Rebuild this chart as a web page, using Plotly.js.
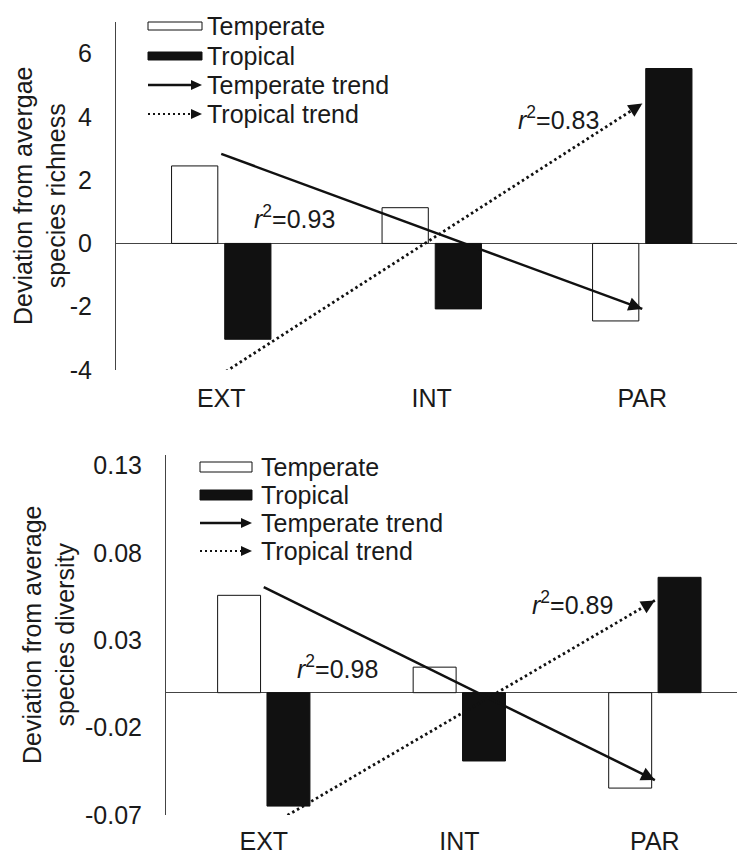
<!DOCTYPE html>
<html><head><meta charset="utf-8">
<script src="https://cdn.plot.ly/plotly-3.0.1.min.js"></script>
<style>html,body{margin:0;padding:0;background:#fff}#chart{width:737px;height:857px}</style>
</head><body><div id="chart"></div>
<script>
// ---- data ----
const categories = ['EXT', 'INT', 'PAR'];
const trendCategories = ['EXT', 'PAR'];
const richnessTemperate = [2.45, 1.13, -2.45];
const richnessTropical = [-3.03, -2.07, 5.53];
const richnessTemperateTrend = [2.83, -2.07];
const richnessTropicalTrend = [-4.14, 4.42];
const diversityTemperate = [0.0557, 0.0146, -0.0546];
const diversityTropical = [-0.0649, -0.0391, 0.066];
const diversityTemperateTrend = [0.0604, -0.0500];
const diversityTropicalTrend = [-0.0781, 0.0528];
const richnessTicks = [-4, -2, 0, 2, 4, 6];
const richnessTickText = ['-4', '-2', '0', '2', '4', '6'];
const diversityTicks = [-0.07, -0.02, 0.03, 0.08, 0.13];
const diversityTickText = ['-0.07', '-0.02', '0.03', '0.08', '0.13'];
const richnessR2 = ['0.93', '0.83'];
const diversityR2 = ['0.98', '0.89'];
const legendLabels = ['Temperate', 'Tropical', 'Temperate trend', 'Tropical trend'];
const richnessTitle = 'Deviation from avergae<br>species richness';
const diversityTitle = 'Deviation from average<br>species diversity';

// ---- layout helpers ----
const W = 737, H = 857, M = {l: 116, r: 0, t: 22, b: 42};
const PW = W - M.l - M.r, PH = H - M.t - M.b;
const fx = p => (p - M.l) / PW;
const fy = p => (H - M.b - p) / PH;
const FONT = 'Liberation Sans, Arial, sans-serif';
const INK = '#111';
const TXT = '#1a1a1a';
const FS = 25;
const DOT = '2.5px,3px';

const shapes = [];
const annotations = [];

function addLegend(x0, x1, textX, rows, boxH) {
  shapes.push({type: 'rect', xref: 'paper', yref: 'paper', x0: fx(x0), x1: fx(x1),
    y0: fy(rows[0] + boxH / 2), y1: fy(rows[0] - boxH / 2), fillcolor: 'white', line: {color: INK, width: 1}});
  shapes.push({type: 'rect', xref: 'paper', yref: 'paper', x0: fx(x0), x1: fx(x1),
    y0: fy(rows[1] + boxH / 2), y1: fy(rows[1] - boxH / 2), fillcolor: INK, line: {color: INK, width: 1}});
  [[rows[2], 'solid'], [rows[3], '2px,3px']].forEach(([yy, dash]) => {
    shapes.push({type: 'line', xref: 'paper', yref: 'paper', x0: fx(x0), x1: fx(x1 - 9),
      y0: fy(yy), y1: fy(yy), line: {color: INK, width: dash === 'solid' ? 2.5 : 2, dash: dash}});
    shapes.push({type: 'path', xref: 'paper', yref: 'paper',
      path: `M${fx(x1)},${fy(yy)} L${fx(x1 - 11)},${fy(yy - 5)} L${fx(x1 - 11)},${fy(yy + 5)} Z`,
      fillcolor: INK, line: {width: 0}});
  });
  legendLabels.forEach((t, i) => {
    annotations.push({xref: 'paper', yref: 'paper', x: fx(textX), y: fy(rows[i]), xanchor: 'left', yanchor: 'middle',
      text: t, showarrow: false, font: {family: FONT, size: FS, color: TXT}});
  });
}
addLegend(148, 202, 205, [26, 56, 85, 114], 8);
addLegend(200, 252, 259, [467, 495, 523, 551], 10);

// axis titles (rotated)
function yTitle(text, cx, cy) {
  annotations.push({xref: 'paper', yref: 'paper', x: fx(cx), y: fy(cy), xanchor: 'center', yanchor: 'middle',
    text: text, textangle: -90, showarrow: false, font: {family: FONT, size: FS, color: TXT}});
}
yTitle(richnessTitle, 40, 196);
yTitle(diversityTitle, 48, 635);

function r2(xref, yref, x, y, val) {
  annotations.push({xref: xref, yref: yref, x: x, y: y, text: '<i>r</i><sup>2</sup>=' + val, showarrow: false,
    font: {family: FONT, size: FS, color: TXT}});
}
r2('x', 'y', 0.35, 0.82, richnessR2[0]);
r2('x', 'y', 1.6, 3.96, richnessR2[1]);
r2('x2', 'y2', 0.376, 0.0146, diversityR2[0]);
r2('x2', 'y2', 1.58, 0.0511, diversityR2[1]);

// arrow heads at the end of each trend line (placed along the trend itself)
function arrowHead(trendY, xref, yref) {
  const last = categories.indexOf(trendCategories[1]);
  const first = categories.indexOf(trendCategories[0]);
  const t = 0.03;
  annotations.push({xref: xref, yref: yref, axref: xref, ayref: yref,
    x: last, y: trendY[1],
    ax: last - t * (last - first), ay: trendY[1] - t * (trendY[1] - trendY[0]),
    text: '', showarrow: true, arrowhead: 2, arrowsize: 1.1, arrowwidth: 2.5, arrowcolor: INK});
}
arrowHead(richnessTemperateTrend, 'x', 'y');
arrowHead(richnessTropicalTrend, 'x', 'y');
arrowHead(diversityTemperateTrend, 'x2', 'y2');
arrowHead(diversityTropicalTrend, 'x2', 'y2');

function bars(y, xa, ya, fill) {
  return {type: 'bar', x: categories, y: y, xaxis: xa, yaxis: ya, showlegend: false, hoverinfo: 'skip',
    marker: {color: fill, line: {color: INK, width: 1}}};
}
function trend(y, xa, ya, dash) {
  return {type: 'scatter', mode: 'lines', x: trendCategories, y: y, xaxis: xa, yaxis: ya,
    showlegend: false, hoverinfo: 'skip',
    line: {color: INK, width: dash === 'solid' ? 2.5 : 2.8, dash: dash}};
}

const data = [
  bars(richnessTemperate, 'x', 'y', 'white'),
  bars(richnessTropical, 'x', 'y', INK),
  trend(richnessTemperateTrend, 'x', 'y', 'solid'),
  trend(richnessTropicalTrend, 'x', 'y', DOT),
  bars(diversityTemperate, 'x2', 'y2', 'white'),
  bars(diversityTropical, 'x2', 'y2', INK),
  trend(diversityTemperateTrend, 'x2', 'y2', 'solid'),
  trend(diversityTropicalTrend, 'x2', 'y2', DOT)
];

const xCommon = {type: 'category', showline: false, ticks: '', showgrid: false, zeroline: false,
  tickfont: {family: FONT, size: FS, color: TXT}, fixedrange: true, automargin: false};
const yCommon = {showline: true, linecolor: '#444', linewidth: 1, zeroline: true, zerolinecolor: '#444',
  zerolinewidth: 1, showgrid: false, ticks: '', tickfont: {family: FONT, size: FS, color: TXT},
  ticklabelstandoff: 18, fixedrange: true, automargin: false};

const layout = {
  width: W, height: H, margin: M, paper_bgcolor: 'white', plot_bgcolor: 'white',
  font: {family: FONT, size: FS, color: TXT},
  barmode: 'group', bargap: 0.495, bargroupgap: 0.13, showlegend: false,
  xaxis: Object.assign({}, xCommon, {domain: [0, 1], anchor: 'y', range: [-0.5, 2.45], ticklabelstandoff: 11}),
  yaxis: Object.assign({}, yCommon, {domain: [0.5612, 1], anchor: 'x', range: [-4, 7],
    tickvals: richnessTicks, ticktext: richnessTickText}),
  xaxis2: Object.assign({}, xCommon, {domain: [(166 - 116) / PW, 1], anchor: 'y2', range: [-0.5, 2.42], ticklabelstandoff: 9}),
  yaxis2: Object.assign({}, yCommon, {domain: [0, 0.454], anchor: 'x2', range: [-0.07, 0.136],
    tickvals: diversityTicks, ticktext: diversityTickText}),
  shapes: shapes,
  annotations: annotations
};

Plotly.newPlot('chart', data, layout, {displayModeBar: false, staticPlot: true});
</script>
</body></html>
